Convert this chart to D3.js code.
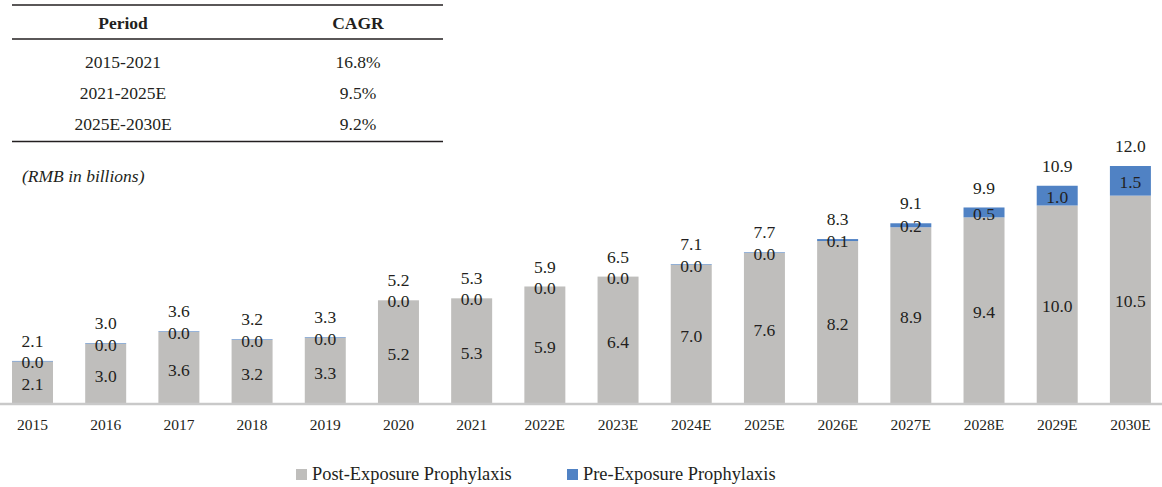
<!DOCTYPE html>
<html>
<head>
<meta charset="utf-8">
<script src="https://cdn.jsdelivr.net/npm/d3@7/dist/d3.min.js"></script>
<style>
  html, body { margin: 0; padding: 0; background: #ffffff; }
  svg { display: block; }
  text { font-family: "Liberation Serif", "Times New Roman", serif; fill: #231f20; }
</style>
</head>
<body>
<svg id="chart" width="1162" height="487"></svg>
<script>
// ---- data ----
const categories = ["2015","2016","2017","2018","2019","2020","2021","2022E","2023E","2024E","2025E","2026E","2027E","2028E","2029E","2030E"];
const postValues = [2.1, 3.0, 3.6, 3.2, 3.3, 5.2, 5.3, 5.9, 6.4, 7.0, 7.6, 8.2, 8.9, 9.4, 10.0, 10.5];
const preValues  = [0.03, 0.03, 0.03, 0.03, 0.03, 0, 0, 0, 0, 0.03, 0.03, 0.1, 0.2, 0.5, 1.0, 1.5];
const totalValues = [2.1, 3.0, 3.6, 3.2, 3.3, 5.2, 5.3, 5.9, 6.5, 7.1, 7.7, 8.3, 9.1, 9.9, 10.9, 12.0];
const seriesNames = ["Post-Exposure Prophylaxis", "Pre-Exposure Prophylaxis"];
const tableHeader = ["Period", "CAGR"];
const tablePeriods = ["2015-2021", "2021-2025E", "2025E-2030E"];
const tableCagr = ["16.8%", "9.5%", "9.2%"];
const unitNote = "(RMB in billions)";

// ---- styles ----
const colors = { post: "#bfbebc", pre: "#5082c4", text: "#231f20", axis: "#c9c9c9" };

const svg = d3.select("#chart");

// ---- scales ----
const x = d3.scaleBand().domain(categories).range([-4.1, 1167]).paddingInner(0.44).paddingOuter(0.22);
const y = d3.scaleLinear().domain([0, 12]).range([403, 166]);

const fmt = d3.format(".1f");

const rows = categories.map((c, i) => ({ c, post: postValues[i], pre: preValues[i], total: totalValues[i] }));

// ---- bars ----
const g = svg.append("g");
g.selectAll("rect.post").data(rows).join("rect")
  .attr("class", "post")
  .attr("x", d => x(d.c)).attr("width", x.bandwidth())
  .attr("y", d => y(d.post)).attr("height", d => y(0) - y(d.post))
  .attr("fill", colors.post);

g.selectAll("rect.pre").data(rows.filter(d => d.pre > 0)).join("rect")
  .attr("class", "pre")
  .attr("x", d => x(d.c)).attr("width", x.bandwidth())
  .attr("y", d => y(d.post + d.pre)).attr("height", d => y(d.post) - y(d.post + d.pre))
  .attr("fill", colors.pre);

// ---- axis ----
const axis = d3.axisBottom(x).tickSize(0).tickPadding(0);
const ax = svg.append("g").attr("transform", "translate(0,404)").call(axis);
ax.select(".domain").remove();
svg.append("line").attr("x1", 0).attr("x2", 1162).attr("y1", 404).attr("y2", 404)
  .attr("stroke", colors.axis).attr("stroke-width", 2.5);
ax.selectAll(".tick text")
  .attr("y", 21).attr("dy", "0.35em")
  .style("font-family", "'Liberation Serif', serif")
  .style("font-size", "15.5px").attr("fill", colors.text);

// ---- value labels ----
const lab = svg.append("g").style("font-size", "17.5px").attr("text-anchor", "middle");
lab.selectAll("text.post").data(rows).join("text")
  .attr("x", d => x(d.c) + x.bandwidth() / 2)
  .attr("y", d => (y(0) + y(d.post)) / 2 + 2)
  .attr("dy", "0.35em")
  .text(d => fmt(d.post));
lab.selectAll("text.pre").data(rows).join("text")
  .attr("x", d => x(d.c) + x.bandwidth() / 2)
  .attr("y", d => (y(d.post) + y(d.post + d.pre)) / 2 + 1)
  .attr("dy", "0.35em")
  .text(d => fmt(d.pre));
lab.selectAll("text.total").data(rows).join("text")
  .attr("x", d => x(d.c) + x.bandwidth() / 2)
  .attr("y", d => y(d.post + d.pre) - 20)
  .attr("dy", "0.35em")
  .text(d => fmt(d.total));

// ---- table ----
const t = svg.append("g");
[5, 39, 141.5].forEach(yy => {
  t.append("line").attr("x1", 12).attr("x2", 443).attr("y1", yy).attr("y2", yy)
    .attr("stroke", colors.text).attr("stroke-width", 1.5);
});
const colX = [123, 358];
t.selectAll("text.h").data(tableHeader).join("text")
  .attr("x", (d, i) => colX[i]).attr("y", 23).attr("dy", "0.35em")
  .attr("text-anchor", "middle").style("font-weight", "bold").style("font-size", "17.5px")
  .text(d => d);
const rowY = [62, 93, 124];
t.selectAll("text.p").data(tablePeriods).join("text")
  .attr("x", colX[0]).attr("y", (d, i) => rowY[i]).attr("dy", "0.35em")
  .attr("text-anchor", "middle").style("font-size", "17.5px").text(d => d);
t.selectAll("text.c").data(tableCagr).join("text")
  .attr("x", colX[1]).attr("y", (d, i) => rowY[i]).attr("dy", "0.35em")
  .attr("text-anchor", "middle").style("font-size", "17.5px").text(d => d);

svg.append("text").attr("x", 22).attr("y", 176).attr("dy", "0.35em")
  .style("font-style", "italic").style("font-size", "17.5px").text(unitNote);

// ---- legend ----
const legX = [296, 567];
const leg = svg.append("g");
seriesNames.forEach((name, i) => {
  leg.append("rect").attr("x", legX[i]).attr("y", 469).attr("width", 11).attr("height", 11)
    .attr("fill", i === 0 ? colors.post : colors.pre);
  leg.append("text").attr("x", legX[i] + 16).attr("y", 474).attr("dy", "0.35em")
    .style("font-size", "18.4px").text(name);
});
</script>
</body>
</html>
